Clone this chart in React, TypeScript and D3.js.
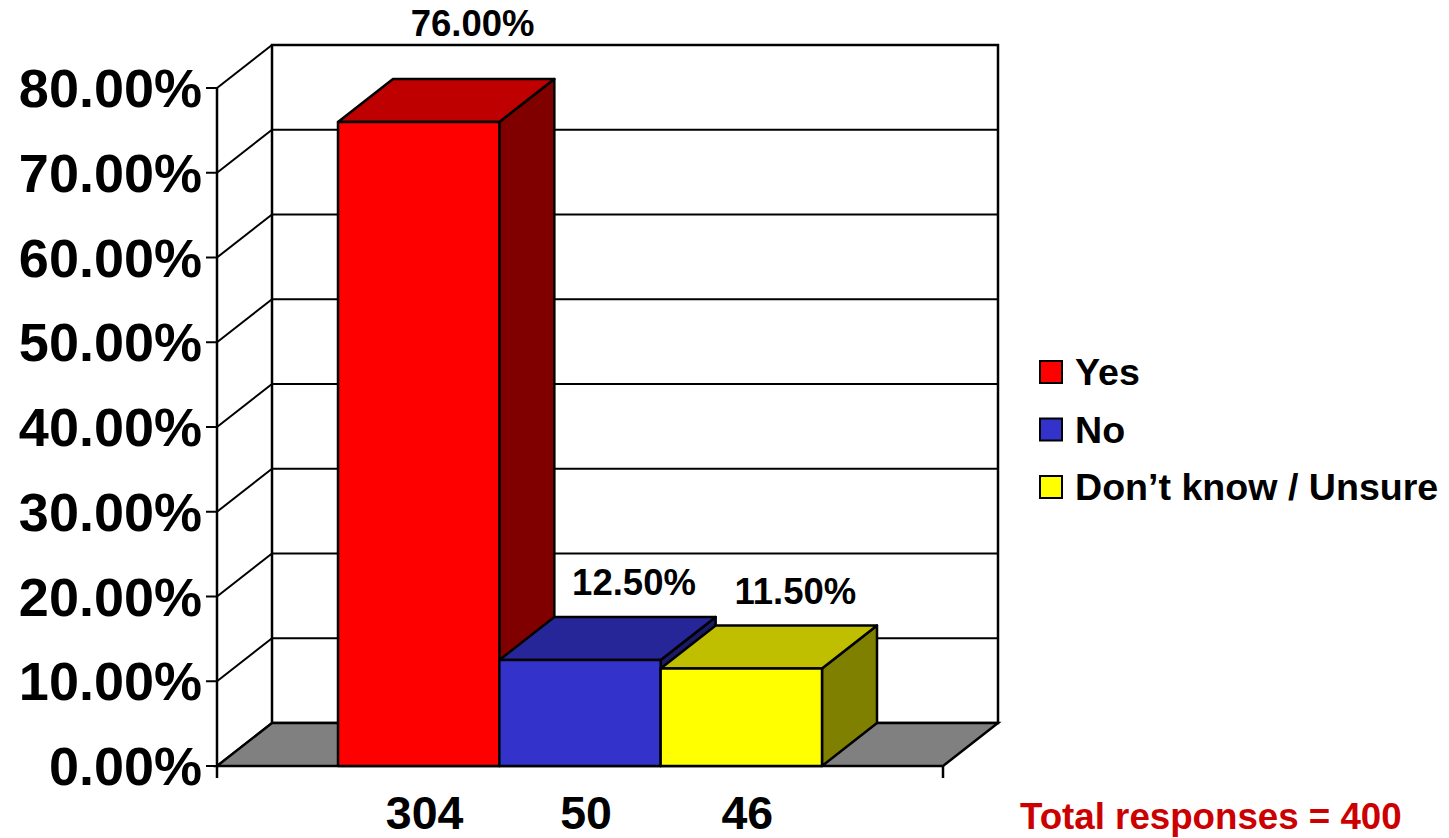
import React, { useEffect, useRef } from 'react';
import * as d3 from 'd3';

const categories = ['Yes', 'No', 'Don’t know / Unsure'];
const percentages = [76.0, 12.5, 11.5];
const counts = [304, 50, 46];
const barColors = ['#FF0000', '#3333CC', '#FFFF00'];
const yTicks = [0, 10, 20, 30, 40, 50, 60, 70, 80];
const totalResponses = 400;

const WIDTH = 1449;
const HEIGHT = 838;
const FONT = '"Liberation Sans", Arial, Helvetica, sans-serif';

const App: React.FC = () => {
  const svgRef = useRef<SVGSVGElement>(null);

  useEffect(() => {
    if (!svgRef.current) return;
    d3.select(svgRef.current).selectAll('*').remove();
    const svg = d3.select(svgRef.current);

    // 3D plot geometry
    const left = 217;
    const right = 943;
    const dx = 55;
    const dy = 43;

    const y = d3.scaleLinear().domain([0, 80]).range([766, 88]);
    const x = d3.scaleBand<string>()
      .domain(categories)
      .range([left, right])
      .paddingInner(0)
      .paddingOuter(0.75);

    const shade = (c: string, k: number) => {
      const rgb = d3.rgb(c);
      return d3.rgb(rgb.r * k, rgb.g * k, rgb.b * k).formatHex();
    };
    const poly = (pts: [number, number][]) => 'M' + pts.map(p => p.join(',')).join('L') + 'Z';

    const y0 = y(0);
    const yTop = y(80);
    const walls = svg.append('g');

    // back wall
    walls.append('rect')
      .attr('x', left + dx)
      .attr('y', yTop - dy)
      .attr('width', right - left)
      .attr('height', y0 - yTop)
      .attr('fill', '#fff')
      .attr('stroke', '#000')
      .attr('stroke-width', 2.5);

    // gridlines on back wall and side wall
    yTicks.forEach(t => {
      const fy = y(t);
      if (t > 0) {
        walls.append('line')
          .attr('x1', left + dx).attr('y1', fy - dy)
          .attr('x2', right + dx).attr('y2', fy - dy)
          .attr('stroke', '#000').attr('stroke-width', 2);
      }
      walls.append('line')
        .attr('x1', left).attr('y1', fy)
        .attr('x2', left + dx).attr('y2', fy - dy)
        .attr('stroke', '#000').attr('stroke-width', 2);
      // tick
      walls.append('line')
        .attr('x1', left - 11).attr('y1', fy)
        .attr('x2', left).attr('y2', fy)
        .attr('stroke', '#000').attr('stroke-width', 2);
      walls.append('text')
        .attr('x', 202)
        .attr('y', fy + 19)
        .attr('text-anchor', 'end')
        .attr('font-family', FONT)
        .attr('font-weight', 'bold')
        .attr('font-size', 54)
        .text(`${t.toFixed(2)}%`);
    });

    // floor
    walls.append('path')
      .attr('d', poly([[left, y0], [left + dx, y0 - dy], [right + dx, y0 - dy], [right, y0]]))
      .attr('fill', '#808080')
      .attr('stroke', '#000')
      .attr('stroke-width', 2.5)
      .attr('stroke-linejoin', 'miter');

    // front axis lines
    walls.append('line')
      .attr('x1', left).attr('y1', yTop)
      .attr('x2', left).attr('y2', y0 + 12)
      .attr('stroke', '#000').attr('stroke-width', 2.5);
    walls.append('line')
      .attr('x1', right).attr('y1', y0)
      .attr('x2', right).attr('y2', y0 + 12)
      .attr('stroke', '#000').attr('stroke-width', 2.5);

    // bars
    const bars = svg.append('g');
    categories.forEach((c, i) => {
      const x0 = x(c) as number;
      const x1 = x0 + x.bandwidth();
      const top = y(percentages[i]);
      const col = barColors[i];
      const g = bars.append('g').attr('stroke', '#000').attr('stroke-width', 2.5).attr('stroke-linejoin', 'round');
      g.append('path')
        .attr('d', poly([[x1, y0], [x1 + dx, y0 - dy], [x1 + dx, top - dy], [x1, top]]))
        .attr('fill', shade(col, 0.5));
      g.append('path')
        .attr('d', poly([[x0, top], [x0 + dx, top - dy], [x1 + dx, top - dy], [x1, top]]))
        .attr('fill', shade(col, 0.75));
      g.append('rect')
        .attr('x', x0).attr('y', top)
        .attr('width', x1 - x0).attr('height', y0 - top)
        .attr('fill', col);
    });

    // value labels above bars
    categories.forEach((c, i) => {
      const cx = (x(c) as number) + x.bandwidth() / 2 + 54;
      let ly = y(percentages[i]) - dy - 22;
      // keep clear of the top edge of the back wall
      if (ly - 28 < yTop - dy) ly = yTop - dy - 9;
      svg.append('text')
        .attr('x', cx)
        .attr('y', ly)
        .attr('text-anchor', 'middle')
        .attr('font-family', FONT)
        .attr('font-weight', 'bold')
        .attr('font-size', 36.5)
        .text(`${percentages[i].toFixed(2)}%`);
    });

    // response counts under bars
    categories.forEach((c, i) => {
      svg.append('text')
        .attr('x', (x(c) as number) + x.bandwidth() / 2 + 6)
        .attr('y', 829)
        .attr('text-anchor', 'middle')
        .attr('font-family', FONT)
        .attr('font-weight', 'bold')
        .attr('font-size', 46.5)
        .text(String(counts[i]));
    });

    // legend
    const legend = svg.append('g').attr('transform', 'translate(1040, 372)');
    categories.forEach((c, i) => {
      const ly = i * 57.5;
      legend.append('rect')
        .attr('x', 0).attr('y', ly - 11)
        .attr('width', 22).attr('height', 22)
        .attr('fill', barColors[i])
        .attr('stroke', '#000')
        .attr('stroke-width', 2);
      legend.append('text')
        .attr('x', 35)
        .attr('y', ly + 13)
        .attr('font-family', FONT)
        .attr('font-weight', 'bold')
        .attr('font-size', 37.6)
        .text(c);
    });

    svg.append('text')
      .attr('x', 1020)
      .attr('y', 829)
      .attr('font-family', FONT)
      .attr('font-weight', 'bold')
      .attr('font-size', 36.7)
      .attr('fill', '#CC0000')
      .text(`Total responses = ${totalResponses}`);
  }, []);

  return (
    <svg
      ref={svgRef}
      width={WIDTH}
      height={HEIGHT}
      style={{ position: 'absolute', left: 0, top: 0, background: '#fff' }}
    />
  );
};

export default App;
